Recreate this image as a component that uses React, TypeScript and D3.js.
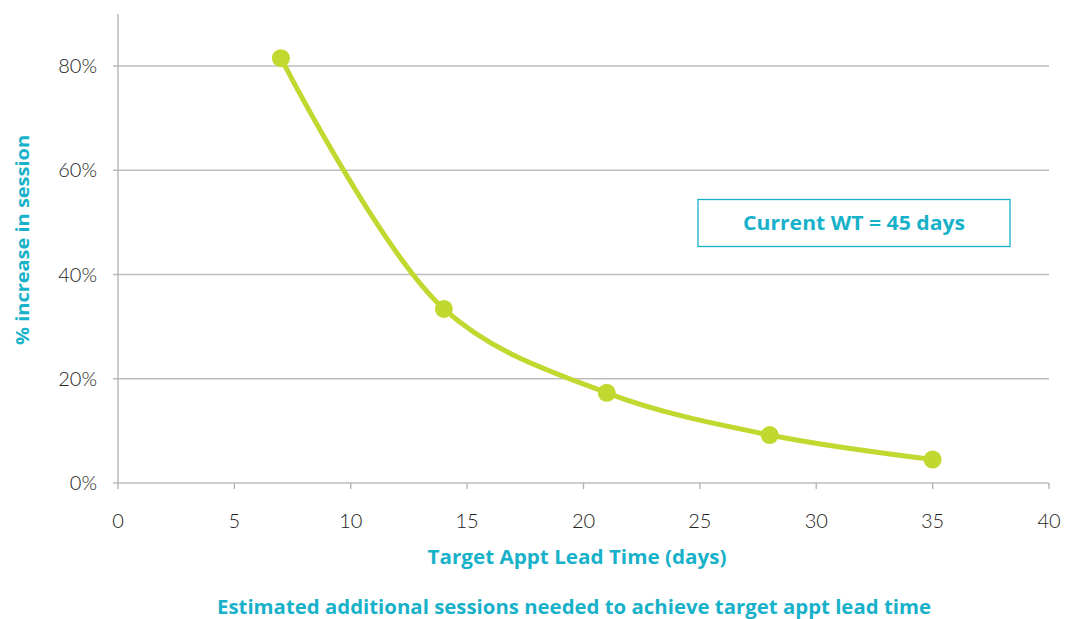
import React from "react";
import * as d3 from "d3";

// lead time (days) vs % increase in sessions
const leadTimes = [7, 14, 21, 28, 35];
const increases = [0.815, 0.334, 0.173, 0.092, 0.045];
const xTicks = [0, 5, 10, 15, 20, 25, 30, 35, 40];
const yTicks = [0, 0.2, 0.4, 0.6, 0.8];

const teal = "#17b1c9";
const green = "#c0d82f";
const titleFont = "'Open Sans'";

const App = () => {
  const width = 1076;
  const height = 619;
  const margin = { top: 14, right: 27, bottom: 136, left: 118 };

  const x = d3.scaleLinear().domain([0, 40]).range([margin.left, width - margin.right]);
  const y = d3.scaleLinear().domain([0, 0.8]).range([height - margin.bottom, 66]);

  const data = leadTimes.map((d, i) => [d, increases[i]] as [number, number]);
  const line = d3
    .line<[number, number]>()
    .x((d) => x(d[0]))
    .y((d) => y(d[1]))
    .curve(d3.curveCatmullRom.alpha(0.5));

  const y0 = y(0);

  return (
    <svg width={width} height={height} style={{ position: "absolute", left: 0, top: 0, fontFamily: "Lato" }}>
      {/* gridlines */}
      {yTicks.map((t) => (
        <g key={t}>
          <line x1={x(0) - 5} x2={x(40)} y1={y(t)} y2={y(t)} stroke="#bdbdbd" strokeWidth={1.3} />
          <text x={x(0) - 21} y={y(t)} dy="0.36em" textAnchor="end" fontSize={20} fontWeight={300} fill="#222">
            {d3.format(".0%")(t)}
          </text>
        </g>
      ))}
      {/* y axis */}
      <line x1={x(0)} x2={x(0)} y1={margin.top} y2={y0} stroke="#b0b0b0" strokeWidth={1.3} />
      {/* x axis */}
      {xTicks.map((t) => (
        <g key={t}>
          <line x1={x(t)} x2={x(t)} y1={y0} y2={y0 + 6} stroke="#b0b0b0" strokeWidth={1.3} />
          <text x={x(t)} y={y0 + 45} textAnchor="middle" fontSize={20} fontWeight={300} fill="#222">
            {t}
          </text>
        </g>
      ))}

      <path d={line(data) ?? ""} fill="none" stroke={green} strokeWidth={5} />
      {data.map((d) => (
        <circle key={d[0]} cx={x(d[0])} cy={y(d[1])} r={9} fill={green} />
      ))}

      {/* annotation box */}
      <rect x={698} y={199.5} width={312} height={47} fill="#fff" stroke={teal} strokeWidth={1.3} />
      <text x={854} y={223} dy="0.36em" textAnchor="middle" fontFamily={titleFont} fontSize={19} fontWeight={700} fill={teal}
        textLength={222} lengthAdjust="spacingAndGlyphs">
        Current WT = 45 days
      </text>

      {/* titles */}
      <text
        transform={`translate(23, ${240}) rotate(-90)`}
        textAnchor="middle"
        dy="0.36em"
        fontFamily={titleFont}
        fontSize={18}
        fontWeight={700}
        fill={teal}
        textLength={210}
        lengthAdjust="spacingAndGlyphs"
      >
        % increase in session
      </text>
      <text x={577} y={557} dy="0.36em" textAnchor="middle" fontFamily={titleFont} fontSize={19} fontWeight={700} fill={teal}
        textLength={299} lengthAdjust="spacingAndGlyphs">
        Target Appt Lead Time (days)
      </text>
      <text x={574} y={607} dy="0.36em" textAnchor="middle" fontFamily={titleFont} fontSize={19} fontWeight={700} fill={teal}
        textLength={714} lengthAdjust="spacingAndGlyphs">
        Estimated additional sessions needed to achieve target appt lead time
      </text>
    </svg>
  );
};

export default App;
